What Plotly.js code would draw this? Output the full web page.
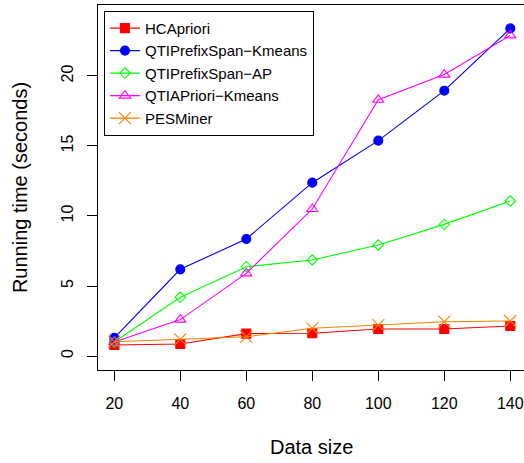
<!DOCTYPE html>
<html>
<head>
<meta charset="utf-8">
<script src="https://cdn.plot.ly/plotly-3.0.1.min.js"></script>
<style>html,body{margin:0;padding:0;background:#fff;}#chart{width:524px;height:463px;}</style>
</head>
<body>
<div id="chart"></div>
<script>
const dataSize = [20, 40, 60, 80, 100, 120, 140];
const seriesNames = ["HCApriori", "QTIPrefixSpan\u2212Kmeans", "QTIPrefixSpan\u2212AP", "QTIAPriori\u2212Kmeans", "PESMiner"];
const hcApriori = [0.79, 0.86, 1.6, 1.62, 1.93, 1.93, 2.14];
const qtiPrefixSpanKmeans = [1.3, 6.19, 8.36, 12.38, 15.38, 18.95, 23.4];
const qtiPrefixSpanAP = [1.0, 4.19, 6.38, 6.86, 7.93, 9.4, 11.07];
const qtiAPrioriKmeans = [1.0, 2.6, 5.9, 10.5, 18.3, 20.1, 22.9];
const pesMiner = [1.02, 1.19, 1.38, 1.98, 2.21, 2.45, 2.5];
const xTitle = "Data size";
const yTitle = "Running time (seconds)";

const styles = [
  {color: "#FF0000", symbol: "square", size: 9},
  {color: "#0000FF", symbol: "circle", size: 9},
  {color: "#00FF00", symbol: "diamond-open", size: 8},
  {color: "#FF00FF", symbol: "triangle-up-open", size: 10},
  {color: "#FF8000", symbol: "x-thin-open", size: 12}
];
const values = [hcApriori, qtiPrefixSpanKmeans, qtiPrefixSpanAP, qtiAPrioriKmeans, pesMiner];

const traces = values.map((v, i) => ({
  x: dataSize, y: v, name: seriesNames[i],
  type: "scatter", mode: "lines+markers",
  line: {color: styles[i].color, width: 1.1},
  marker: {color: styles[i].color, symbol: styles[i].symbol, size: styles[i].size,
           line: {color: styles[i].color, width: 1.1}}
}));

const font = "Liberation Sans, Arial, Helvetica, sans-serif";
const layout = {
  width: 524, height: 463,
  margin: {l: 98, r: 0, t: 5, b: 93},
  paper_bgcolor: "#fff", plot_bgcolor: "#fff",
  font: {family: font, color: "#000", size: 16},
  showlegend: true,
  legend: {x: 0.014, y: 0.984, xanchor: "left", yanchor: "top",
           bordercolor: "#000", borderwidth: 1, bgcolor: "#fff",
           font: {family: font, size: 15, color: "#000"}},
  xaxis: {range: [15.06, 144.15], tickvals: dataSize, ticktext: dataSize.map(String),
          showgrid: false, zeroline: false, showline: true, mirror: true, linecolor: "#000", linewidth: 1,
          ticks: "outside", ticklen: 10, tickcolor: "#000", tickfont: {size: 16}, ticklabelstandoff: 9},
  yaxis: {range: [-1.0, 25.07], tickvals: [0, 5, 10, 15, 20],
          showgrid: false, zeroline: false, showline: true, linecolor: "#000", linewidth: 1,
          ticks: "outside", ticklen: 10, tickcolor: "#000", tickfont: {size: 16}, tickangle: -90,
          ticklabelstandoff: 8,
          title: {text: yTitle, font: {size: 20}, standoff: 25}},
  annotations: [{text: xTitle, xref: "paper", yref: "paper", x: 0.5, y: -0.211,
                 xanchor: "center", yanchor: "middle", showarrow: false, font: {size: 20}}]
};
Plotly.newPlot("chart", traces, layout, {displayModeBar: false, staticPlot: true});
</script>
</body>
</html>
